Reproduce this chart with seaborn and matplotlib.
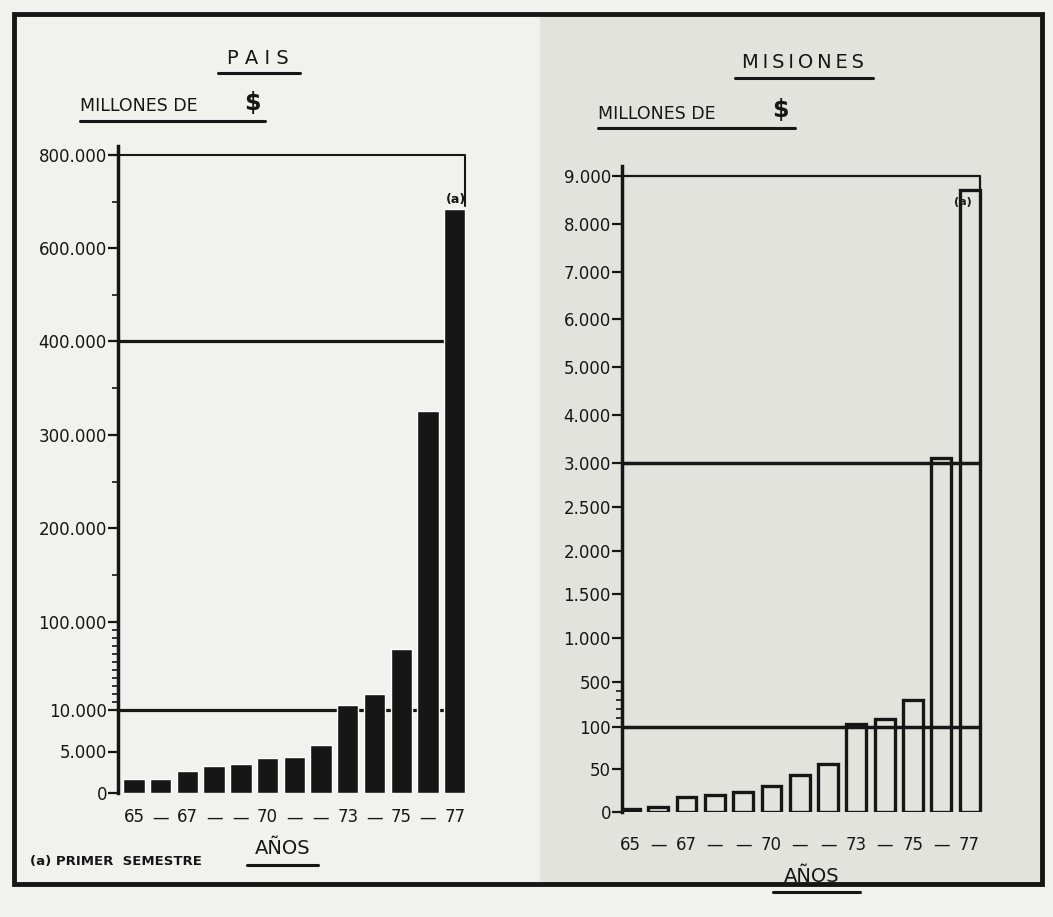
import numpy as np
import pandas as pd
import matplotlib
matplotlib.use("Agg")
import matplotlib.pyplot as plt
import seaborn as sns
from matplotlib.lines import Line2D
from matplotlib.patches import Rectangle

# --- data (millones de $) ---
years = list(range(1965, 1978))
year_labels = ["65", "—", "67", "—", "—", "70", "—", "—", "73", "—", "75", "—", "77"]

pais = [1700, 1700, 2700, 3200, 3500, 4200, 4300, 5800, 15000, 26000, 72000, 325000, 683000]
misiones = [3, 6, 18, 20, 23, 31, 43, 56, 130, 170, 340, 3100, 8700]

pais_ticks = [0, 5000, 10000, 100000, 200000, 300000, 400000, 600000, 800000]
pais_ticklabels = ["0", "5.000", "10.000", "100.000", "200.000", "300.000",
                   "400.000", "600.000", "800.000"]
pais_minor = [150000, 250000, 350000, 500000, 700000]

mis_ticks = [0, 50, 100, 500, 1000, 1500, 2000, 2500, 3000,
             4000, 5000, 6000, 7000, 8000, 9000]
mis_ticklabels = ["0", "50", "100", "500", "1.000", "1.500", "2.000", "2.500",
                  "3.000", "4.000", "5.000", "6.000", "7.000", "8.000", "9.000"]

# broken axis: each break starts a new linear piece (value -> drawn height)
pais_breaks = [0, 10000, 100000, 400000, 800000, 900000]
pais_heights = [0, 83, 171, 452, 638, 684.5]
mis_breaks = [0, 100, 500, 3000, 9000, 10000]
mis_heights = [0, 85, 130, 349, 636, 683.8]

ink = "#161616"
W, H = 1053, 917

sns.set_theme(style="ticks")
plt.rcParams["font.family"] = ["DejaVu Sans"]
plt.rcParams["text.color"] = ink
plt.rcParams["axes.edgecolor"] = ink
plt.rcParams["xtick.color"] = ink
plt.rcParams["ytick.color"] = ink

fig = plt.figure(figsize=(W / 100, H / 100), dpi=100, facecolor="#f1f1ee")


def fx(px):
    return px / W


def fy(py):
    return 1 - py / H


def piecewise(breaks, heights):
    fwd = lambda v: np.interp(v, breaks, heights)
    inv = lambda h: np.interp(h, heights, breaks)
    return fwd, inv


# shaded right half of the page (photo lighting)
fig.add_artist(Rectangle((fx(540), fy(885)), fx(1042) - fx(540), fy(14) - fy(885),
                         transform=fig.transFigure, color="#e3e3de", zorder=-5))

# ---------------- PAIS ----------------
ax1 = fig.add_axes([fx(118), fy(793), 350 / W, 647.3 / H])
ax1.set_facecolor("none")
df1 = pd.DataFrame({"anio": years, "valor": pais})
sns.barplot(data=df1, x="anio", y="valor", ax=ax1, color=ink, saturation=1,
            width=0.8, zorder=2)
ax1.set_yscale("function", functions=piecewise(pais_breaks, pais_heights))
ax1.set_ylim(0, 820000)
ax1.set_xlim(-0.6, 12.5)
ax1.set_yticks(pais_ticks)
ax1.set_yticklabels(pais_ticklabels)
ax1.set_yticks(list(np.linspace(10000, 100000, 12)[1:-1]) + pais_minor, minor=True)

# scale-break lines
ax1.hlines([10000, 400000], -0.6, [12.4, 12.0], color=ink, lw=2.3, zorder=1)
ax1.plot([-0.6, 12.4, 12.4], [800000, 800000, 690000], color=ink, lw=1.5,
         clip_on=False, zorder=1)
ax1.text(12.05, 705000, "(a)", ha="center", va="center", fontsize=9,
         fontweight="bold")

# ---------------- MISIONES ----------------
ax2 = fig.add_axes([fx(622), fy(812), 368 / W, 645.6 / H])
ax2.set_facecolor("none")
df2 = pd.DataFrame({"anio": years, "valor": misiones})
sns.barplot(data=df2, x="anio", y="valor", ax=ax2, color=ink, fill=False,
            linewidth=2.4, width=0.7, zorder=2)
ax2.set_yscale("function", functions=piecewise(mis_breaks, mis_heights))
ax2.set_ylim(0, 9200)
ax2.set_xlim(-0.28, 12.72)
ax2.set_yticks(mis_ticks)
ax2.set_yticklabels(mis_ticklabels)
ax2.set_yticks(list(np.linspace(100, 500, 6)[1:-1]), minor=True)

ax2.hlines([100, 3000], -0.28, 12.4, color=ink, lw=2.5, zorder=3)
ax2.plot([-0.28, 12.35, 12.35], [9000, 9000, 8700], color=ink, lw=1.6,
         clip_on=False, zorder=3)
ax2.text(11.75, 8450, "(a)", ha="center", va="center", fontsize=8,
         fontweight="bold")

for ax, xpad in ((ax1, 11), (ax2, 17)):
    sns.despine(ax=ax, top=True, right=True, bottom=True)
    ax.spines["left"].set_linewidth(2.5)
    ax.set_xticks(range(len(years)))
    ax.set_xticklabels(year_labels)
    ax.tick_params(axis="x", length=0, pad=xpad, labelsize=12)
    ax.tick_params(axis="y", which="major", length=7, width=1.6, pad=1,
                   labelsize=12)
    ax.tick_params(axis="y", which="minor", length=4.5, width=1.2)
    ax.set_xlabel("")
    ax.set_ylabel("")
    ax.grid(False)


# ---------------- titles and notes ----------------
def underlined(px, py, s, size, ux0, ux1, uy, ha="center", weight="normal", lw=2.2):
    fig.text(fx(px), fy(py), s, ha=ha, va="center", fontsize=size,
             fontweight=weight)
    fig.add_artist(Line2D([fx(ux0), fx(ux1)], [fy(uy), fy(uy)], color=ink,
                          lw=lw, transform=fig.transFigure))


underlined(258, 58, "P A I S", 14, 218, 300, 73)
underlined(803, 62, "M\u2009I\u2009S\u2009I\u2009O\u2009N\u2009E\u2009S", 14, 735, 873, 78)

underlined(80, 106, "MILLONES DE", 12.5, 80, 265, 121, ha="left")
fig.text(fx(244), fy(103), "$", ha="left", va="center", fontsize=17, fontweight="bold")
underlined(598, 114, "MILLONES DE", 12.5, 598, 795, 128, ha="left")
fig.text(fx(772), fy(110), "$", ha="left", va="center", fontsize=17, fontweight="bold")

underlined(283, 849, "AÑOS", 14, 247, 318, 865)
underlined(812, 876, "AÑOS", 14, 773, 860, 892)

fig.text(fx(30), fy(862), "(a) PRIMER  SEMESTRE", ha="left", va="center",
         fontsize=9.5, fontweight="bold")

# page frame
fig.add_artist(Rectangle((fx(14), fy(884)), fx(1042) - fx(14), fy(14) - fy(884),
                         transform=fig.transFigure, fill=False, ec=ink, lw=3.5))

fig.savefig("out.png", dpi=100, facecolor=fig.get_facecolor())
